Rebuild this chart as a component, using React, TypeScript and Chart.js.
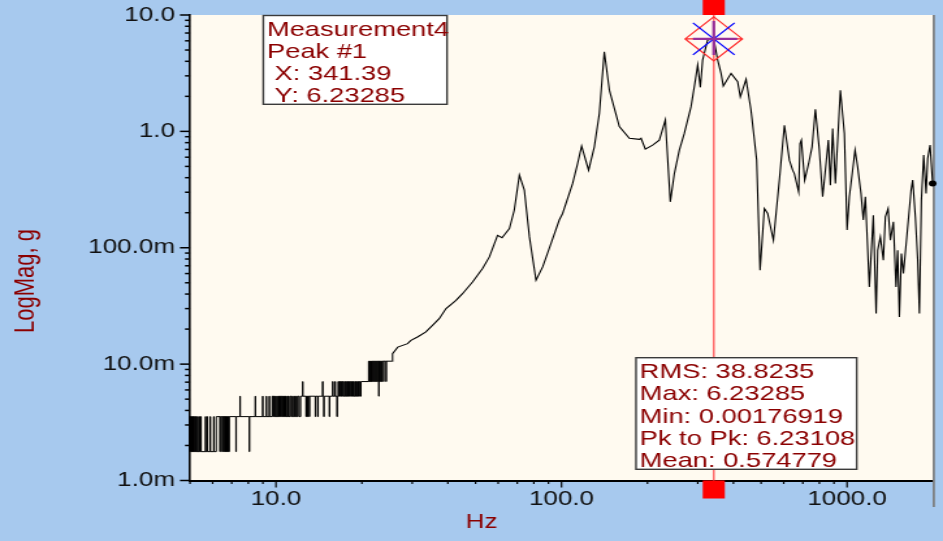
import React, { useEffect, useRef } from 'react';
import { Chart, registerables } from 'chart.js';

Chart.register(...registerables);

// ---------- data (frequency in Hz, magnitude in g) ----------
// Low-frequency part: quantised (stepped) noise floor
const lowBand: [number, number][] = [
  [5.0, 0.00354], [5.02, 0.00177], [5.03, 0.00354], [5.05, 0.00177], [5.07, 0.00354], [5.09, 0.00177],
  [5.11, 0.00354], [5.13, 0.00177], [5.15, 0.00354], [5.17, 0.00177], [5.2, 0.00354], [5.22, 0.00177],
  [5.25, 0.00354], [5.27, 0.00177], [5.31, 0.00354], [5.33, 0.00177], [5.38, 0.00354], [5.4, 0.00177],
  [5.45, 0.00354], [5.47, 0.00177], [5.66, 0.00354], [5.68, 0.00177], [5.74, 0.00354], [5.76, 0.00177],
  [5.88, 0.00354], [5.9, 0.00177], [6.05, 0.00354], [6.07, 0.00177], [6.18, 0.00354], [6.36, 0.00177],
  [6.38, 0.00354], [6.48, 0.00177], [6.5, 0.00354], [6.55, 0.00177], [6.57, 0.00354], [6.62, 0.00177],
  [6.63, 0.00354], [6.66, 0.00177], [6.68, 0.00354], [6.72, 0.00177], [6.74, 0.00354], [6.78, 0.00177],
  [6.8, 0.00354], [6.84, 0.00177], [6.86, 0.00354], [7.24, 0.00177], [7.26, 0.00354], [7.48, 0.0053],
  [7.5, 0.00354], [8.06, 0.00177], [8.08, 0.00354], [8.46, 0.0053], [8.48, 0.00354], [8.98, 0.0053],
  [9.0, 0.00354], [9.25, 0.0053], [9.27, 0.00354], [9.47, 0.0053], [9.49, 0.00354], [9.7, 0.0053],
  [9.76, 0.00354], [9.82, 0.0053], [9.88, 0.00354], [9.95, 0.0053], [10.0, 0.00354], [10.08, 0.0053],
  [10.12, 0.00354], [10.2, 0.0053], [10.25, 0.00354], [10.3, 0.0053], [10.36, 0.00354], [10.44, 0.0053],
  [10.5, 0.00354], [10.55, 0.0053], [10.6, 0.00354], [10.69, 0.0053], [10.74, 0.00354], [10.8, 0.0053],
  [10.86, 0.00354], [10.95, 0.0053], [11.0, 0.00354], [11.05, 0.0053], [11.1, 0.00354], [11.21, 0.0053],
  [11.3, 0.00354], [11.4, 0.0053], [11.48, 0.00354], [11.6, 0.0053], [11.65, 0.00354], [11.76, 0.0053],
  [11.85, 0.00354], [11.95, 0.0053], [12.07, 0.00354], [12.2, 0.0053], [12.4, 0.00708], [12.42, 0.0053],
  [12.74, 0.00354], [12.78, 0.0053], [12.9, 0.00354], [12.95, 0.0053], [13.08, 0.00354], [13.12, 0.0053],
  [13.73, 0.00354], [13.77, 0.0053], [14.0, 0.00354], [14.05, 0.0053], [14.56, 0.00708], [14.6, 0.0053],
  [14.7, 0.00354], [14.75, 0.0053], [15.37, 0.00354], [15.42, 0.0053], [15.78, 0.00708], [15.85, 0.0053],
  [16.1, 0.00708], [16.15, 0.0053], [16.35, 0.00354], [16.4, 0.0053], [16.5, 0.00708], [16.6, 0.0053],
  [16.7, 0.00708], [16.8, 0.0053], [16.93, 0.00708], [17.0, 0.0053], [17.1, 0.00708], [17.2, 0.0053],
  [17.36, 0.00708], [17.45, 0.0053], [17.55, 0.00708], [17.65, 0.0053], [17.78, 0.00708], [17.85, 0.0053],
  [17.95, 0.00708], [18.05, 0.0053], [18.2, 0.00708], [18.3, 0.0053], [18.45, 0.00708], [18.55, 0.0053],
  [18.65, 0.00708], [18.75, 0.0053], [18.9, 0.00708], [19.0, 0.0053], [19.1, 0.00708], [19.2, 0.0053],
  [19.35, 0.00708], [19.45, 0.0053], [19.58, 0.00708], [19.7, 0.0053], [19.85, 0.00708], [21.1, 0.0106],
  [21.2, 0.00708], [21.3, 0.0106], [21.4, 0.00708], [21.5, 0.0106], [21.6, 0.00708], [21.7, 0.0106],
  [21.85, 0.00708], [21.95, 0.0106], [22.1, 0.00708], [22.2, 0.0106], [22.35, 0.00708], [22.45, 0.0106],
  [22.6, 0.00708], [22.7, 0.0106], [22.9, 0.0053], [22.95, 0.0106], [23.1, 0.00708], [23.2, 0.0106],
  [23.4, 0.00708], [23.5, 0.0106], [23.8, 0.00708], [23.85, 0.0106], [24.3, 0.00708], [24.35, 0.0106],
  [25.5, 0.0106],
];

// Rest of the spectrum
const mainTrace: [number, number][] = [
  [25.5, 0.0106], [25.6, 0.0123], [26.7, 0.014], [28.9, 0.015], [29.7, 0.016], [31.3, 0.0171],
  [33.5, 0.0189], [35.4, 0.0216], [37.3, 0.0246], [39.4, 0.03], [42.7, 0.0353], [45.0, 0.0403],
  [48.8, 0.0508], [52.9, 0.0662], [55.9, 0.0834], [59.7, 0.128], [61.9, 0.122], [65.7, 0.146],
  [68.3, 0.21], [71.2, 0.421], [74.1, 0.313], [77.2, 0.124], [81.4, 0.0525], [85.9, 0.0684],
  [91.9, 0.109], [98.2, 0.173], [100.9, 0.197], [109.4, 0.357], [113.9, 0.53], [117.6, 0.747],
  [124.4, 0.464], [130.3, 0.736], [135.7, 1.43], [141.2, 4.83], [147.1, 2.26], [159.4, 1.1],
  [172.8, 0.873], [187.3, 0.854], [189.9, 0.873], [196.6, 0.703], [208.5, 0.762], [220, 0.841],
  [231, 1.25], [240.4, 0.248], [248.4, 0.434], [258.6, 0.69], [269.2, 0.96], [284.2, 1.63],
  [294.3, 2.76], [299.8, 3.72], [306.3, 2.39], [312.0, 4.1], [324.8, 6.1], [341.39, 6.23285],
  [352.3, 4.1], [362, 3.15], [368.7, 2.45], [392.4, 3.15], [413.9, 2.67], [422.9, 1.98],
  [442.9, 2.8], [461, 1.52], [482.4, 0.566], [495.8, 0.064], [513.3, 0.217], [527.2, 0.197],
  [552.2, 0.116], [579.4, 0.381], [603.3, 1.13], [628.1, 0.566], [644.7, 0.464], [653.6, 0.434],
  [676.8, 0.302], [684.4, 0.787], [691.8, 0.841], [710.4, 0.381], [733.7, 0.53], [754.1, 0.736],
  [774.5, 1.55], [799.8, 0.69], [821.5, 0.274], [844.2, 0.53], [860.1, 0.841], [874.1, 0.345],
  [890.6, 1.06], [910.1, 0.357], [947.5, 2.26], [978.6, 0.96], [1000, 0.142], [1018.6, 0.274],
  [1046, 0.464], [1066.6, 0.69], [1089, 0.496], [1119, 0.292], [1140, 0.173], [1159, 0.274],
  [1197, 0.0461], [1236, 0.19], [1264, 0.0272], [1280, 0.095], [1308, 0.124], [1340, 0.078],
  [1362, 0.184], [1392, 0.217], [1418, 0.116], [1453, 0.167], [1484, 0.0461], [1504, 0.095],
  [1525, 0.0254], [1550, 0.0891], [1575, 0.06], [1617, 0.12], [1676, 0.313], [1698, 0.381],
  [1735, 0.184], [1768, 0.078], [1792, 0.0272], [1821, 0.256], [1855, 0.625], [1891, 0.292],
  [1916, 0.585], [1953, 0.762], [1994, 0.357],
];

const xRange = [5, 2000];
const yRange = [0.001, 10];
const xMajorTicks = [10, 100, 1000];
const xMajorLabels = ['10.0', '100.0', '1000.0'];
const xMinorTicks = [5, 6, 7, 8, 9, 20, 30, 40, 50, 60, 70, 80, 90, 200, 300, 400, 500, 600, 700, 800, 900, 2000];
const yMajorTicks = [0.001, 0.01, 0.1, 1, 10];
const yMajorLabels = ['1.0m', '10.0m', '100.0m', '1.0', '10.0'];
const yMinorTicks = [
  0.002, 0.003, 0.004, 0.005, 0.006, 0.007, 0.008, 0.009,
  0.02, 0.03, 0.04, 0.05, 0.06, 0.07, 0.08, 0.09,
  0.2, 0.3, 0.4, 0.5, 0.6, 0.7, 0.8, 0.9,
  2, 3, 4, 5, 6, 7, 8, 9,
];

const peakHz = 341.39;
const peakG = 6.23285;
const markerText = ['Measurement4', 'Peak #1', ' X: 341.39', ' Y: 6.23285'];
const statsText = ['RMS: 38.8235', 'Max: 6.23285', 'Min: 0.00176919', 'Pk to Pk: 6.23108', 'Mean: 0.574779'];
const xTitle = 'Hz';
const yTitle = 'LogMag, g';

// ---------- look ----------
const VIEW_W = 943;
const VIEW_H = 541;
const CANVAS_W = 725; // drawn narrower, then stretched horizontally like the original screenshot
const SX = VIEW_W / CANVAS_W;
const BG = '#a7c9ee';
const PLOT_BG = '#fffaf0';
const DARK_RED = '#8b0000';
const FONT = '"Liberation Sans", Arial, sans-serif';

const PLOT_LEFT = 190 / SX;
const PLOT_RIGHT = 933 / SX;
const PLOT_TOP = 15;
const PLOT_BOTTOM = 480.5;

const near = (a: number, b: number) => Math.abs(a - b) <= Math.abs(b) * 1e-9;

export default function App() {
  const ref = useRef<HTMLCanvasElement>(null);

  useEffect(() => {
    const canvas = ref.current;
    if (!canvas) return;

    const xTicksAll = [...xMinorTicks, ...xMajorTicks].sort((a, b) => a - b);
    const yTicksAll = [...yMinorTicks, ...yMajorTicks].sort((a, b) => a - b);

    const decor = {
      id: 'decor',
      beforeDraw(chart: any) {
        const { ctx, chartArea: a, width, height } = chart;
        ctx.save();
        ctx.fillStyle = BG;
        ctx.fillRect(0, 0, width, height);
        ctx.fillStyle = PLOT_BG;
        ctx.fillRect(a.left, a.top, a.right - a.left, a.bottom - a.top);
        ctx.restore();
      },
      beforeDatasetsDraw(chart: any) {
        const { ctx, chartArea: a, scales } = chart;
        const xs = scales.x;
        const ys = scales.y;
        ctx.save();
        // right border of plot, extending below the axis
        ctx.strokeStyle = '#7c7c7c';
        ctx.lineWidth = 1.7;
        ctx.beginPath();
        ctx.moveTo(a.right + 0.6, a.top);
        ctx.lineTo(a.right + 0.6, 507);
        ctx.stroke();
        // x tick marks
        ctx.strokeStyle = '#000';
        ctx.lineWidth = 1.2;
        for (const v of xTicksAll) {
          if (v >= xRange[1]) continue;
          const px = xs.getPixelForValue(v);
          const major = xMajorTicks.some((m) => near(v, m));
          ctx.beginPath();
          ctx.moveTo(px, a.bottom);
          ctx.lineTo(px, a.bottom + (major ? 7 : 3.5));
          ctx.stroke();
        }
        // y tick marks
        ctx.lineWidth = 1.5;
        for (const v of yTicksAll) {
          const py = ys.getPixelForValue(v);
          const major = yMajorTicks.some((m) => near(v, m));
          ctx.beginPath();
          ctx.moveTo(a.left - (major ? 10 : 5) / SX, py);
          ctx.lineTo(a.left, py);
          ctx.stroke();
        }
        ctx.restore();
      },
      afterDatasetsDraw(chart: any) {
        const { ctx, chartArea: a, scales } = chart;
        const xs = scales.x;
        const ys = scales.y;
        const cx = xs.getPixelForValue(peakHz);
        const cy = ys.getPixelForValue(peakG);
        ctx.save();
        // cursor line
        ctx.strokeStyle = '#ff6e6e';
        ctx.lineWidth = 1.6;
        ctx.beginPath();
        ctx.moveTo(cx, a.top);
        ctx.lineTo(cx, a.bottom);
        ctx.stroke();
        // cursor handles
        ctx.fillStyle = '#ff0000';
        ctx.fillRect(cx - 8.5, 0, 17, a.top);
        ctx.fillRect(cx - 8.5, a.bottom, 17, 18);
        // peak marker: diamond
        const d = 22;
        ctx.strokeStyle = '#ff2a2a';
        ctx.lineWidth = 1.2;
        ctx.beginPath();
        ctx.moveTo(cx, cy - d);
        ctx.lineTo(cx + d, cy);
        ctx.lineTo(cx, cy + d);
        ctx.lineTo(cx - d, cy);
        ctx.closePath();
        ctx.moveTo(cx - d, cy);
        ctx.lineTo(cx + d, cy);
        ctx.stroke();
        // blue cross
        const b = 16;
        ctx.strokeStyle = '#0000ff';
        ctx.lineWidth = 1.3;
        ctx.beginPath();
        ctx.moveTo(cx - b, cy - b);
        ctx.lineTo(cx + b, cy + b);
        ctx.moveTo(cx - b, cy + b);
        ctx.lineTo(cx + b, cy - b);
        ctx.stroke();
        // purple plus
        ctx.strokeStyle = '#952f9a';
        ctx.lineWidth = 2.2;
        ctx.beginPath();
        ctx.moveTo(cx, cy - 18);
        ctx.lineTo(cx, cy + 16);
        ctx.moveTo(cx - 16, cy);
        ctx.lineTo(cx + 18, cy);
        ctx.stroke();

        // annotation boxes
        const drawBox = (l: number, t: number, r: number, bt: number, lines: string[], base0: number, step: number) => {
          const L = l / SX;
          const R = r / SX;
          ctx.fillStyle = '#ffffff';
          ctx.fillRect(L, t, R - L, bt - t);
          ctx.strokeStyle = '#3a3a3a';
          ctx.lineWidth = 1.4;
          ctx.strokeRect(L, t, R - L, bt - t);
          ctx.fillStyle = DARK_RED;
          ctx.font = `21px ${FONT}`;
          ctx.textAlign = 'left';
          ctx.textBaseline = 'alphabetic';
          lines.forEach((s, i) => ctx.fillText(s, L + 2.3 / SX + 1, base0 + i * step));
        };
        drawBox(263.3, 15.5, 447, 104.3, markerText, 35.5, 22);
        drawBox(636, 357.7, 856.7, 469.3, statsText, 377.8, 22.4);

        // axis titles
        ctx.fillStyle = DARK_RED;
        ctx.font = `20px ${FONT}`;
        ctx.textAlign = 'center';
        ctx.textBaseline = 'middle';
        ctx.fillText(xTitle, 481.5 / SX, 522);
        ctx.save();
        ctx.translate(26 / SX, 281);
        ctx.rotate(-Math.PI / 2);
        ctx.font = `22px ${FONT}`;
        ctx.fillText(yTitle, 0, 0);
        ctx.restore();
        ctx.restore();
      },
    };

    const lastIdx = mainTrace.length - 1;
    const tickFont = { family: FONT, size: 20 };

    const chart = new Chart(canvas, {
      type: 'line',
      data: {
        datasets: [
          {
            data: lowBand.map(([x, y]) => ({ x, y })),
            borderColor: '#000',
            borderWidth: 1,
            stepped: true,
            pointRadius: 0,
            pointHoverRadius: 0,
          },
          {
            data: mainTrace.map(([x, y]) => ({ x, y })),
            borderColor: '#000',
            borderWidth: 1.1,
            tension: 0,
            pointRadius: (c: any) => (c.dataIndex === lastIdx ? 3 : 0),
            pointHoverRadius: 0,
            pointBackgroundColor: '#000',
            pointBorderWidth: 0,
            clip: 8,
          } as any,
        ],
      },
      options: {
        responsive: false,
        animation: false,
        devicePixelRatio: 1,
        events: [],
        layout: { padding: { left: 0, right: CANVAS_W - PLOT_RIGHT, top: PLOT_TOP, bottom: 0 } },
        plugins: { legend: { display: false }, tooltip: { enabled: false }, title: { display: false } },
        scales: {
          x: {
            type: 'logarithmic',
            min: xRange[0],
            max: xRange[1],
            afterBuildTicks: (s: any) => {
              s.ticks = xTicksAll.map((v) => ({ value: v }));
            },
            afterFit: (s: any) => {
              s.height = VIEW_H - PLOT_BOTTOM;
              s.paddingLeft = 0;
              s.paddingRight = 0;
            },
            grid: { display: false, drawTicks: false },
            border: { display: true, color: '#000', width: 2 },
            ticks: {
              autoSkip: false,
              maxRotation: 0,
              minRotation: 0,
              padding: 6.5,
              color: '#111',
              font: tickFont,
              callback: (v: any) => {
                const i = xMajorTicks.findIndex((m) => near(Number(v), m));
                return i >= 0 ? xMajorLabels[i] : '';
              },
            },
          },
          y: {
            type: 'logarithmic',
            min: yRange[0],
            max: yRange[1],
            afterBuildTicks: (s: any) => {
              s.ticks = yTicksAll.map((v) => ({ value: v }));
            },
            afterFit: (s: any) => {
              s.width = PLOT_LEFT;
              s.paddingTop = 0;
              s.paddingBottom = 0;
            },
            grid: { display: false, drawTicks: false },
            border: { display: true, color: '#000', width: 1.6 },
            ticks: {
              autoSkip: false,
              padding: (190 - 175) / SX,
              color: '#111',
              font: tickFont,
              callback: (v: any) => {
                const i = yMajorTicks.findIndex((m) => near(Number(v), m));
                return i >= 0 ? yMajorLabels[i] : '';
              },
            },
          },
        },
      } as any,
      plugins: [decor],
    });

    return () => chart.destroy();
  }, []);

  return (
    <div style={{ position: 'fixed', left: 0, top: 0, width: VIEW_W, height: VIEW_H, background: BG, overflow: 'hidden' }}>
      <canvas
        ref={ref}
        width={CANVAS_W}
        height={VIEW_H}
        style={{ display: 'block', width: `${VIEW_W}px`, height: `${VIEW_H}px` }}
      />
    </div>
  );
}
